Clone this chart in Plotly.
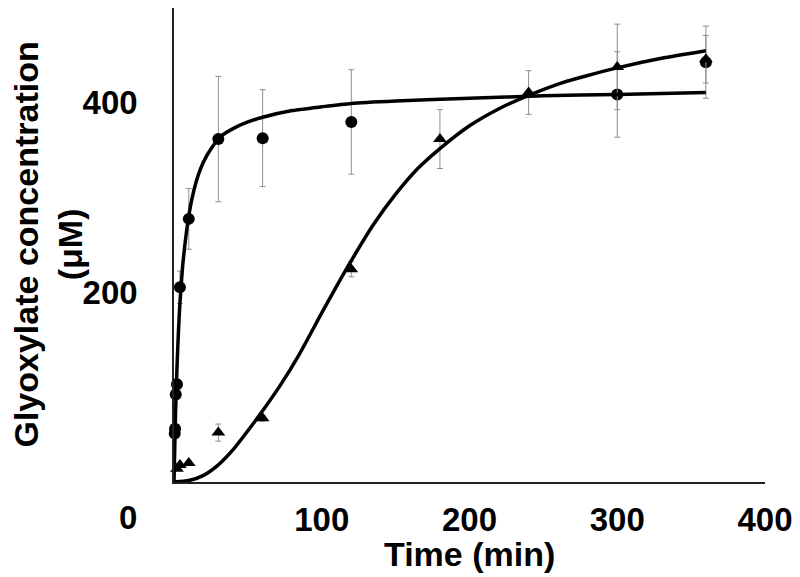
import plotly.graph_objects as go

# Measured data (circles: fast series; triangles: slow series)
circle_t = [0.5, 0.7, 1.2, 2, 4, 10, 30, 60, 120, 300, 360]
circle_y = [51, 56, 92, 103, 205, 277, 361, 362, 379, 408, 442]
circle_err = [4, 4, 5, 5, 17, 32, 66, 51, 55, 45, 38]

tri_t = [2, 4, 10, 30, 60, 120, 180, 240, 300, 360]
tri_y = [14, 18, 20, 52, 67, 224, 361, 410, 437, 445]
tri_err = [2, 2, 2, 9, 3, 8, 31, 23, 45, 25]

# Fitted curves
fit_fast_t = [0, 1, 2, 3, 4, 5, 6, 8, 10, 12, 15, 18, 22, 26, 31, 40, 50, 60, 80, 100, 120, 150, 200, 250, 300, 360]
fit_fast_y = [0, 70, 120, 158, 188, 210, 230, 258, 280, 297, 316, 330, 343, 353, 363, 372, 379, 384, 391, 395, 398.5, 401, 404, 406.5, 408, 410]

fit_slow_t = [0, 10, 20, 30, 40, 50, 60, 72, 85, 100, 110, 120, 135, 150, 165, 180, 200, 220, 240, 262, 280, 300, 330, 360]
fit_slow_y = [0, 1.5, 7, 18, 34, 54, 75, 102, 135, 178, 206, 233, 271, 303, 330, 351, 375, 393, 407, 420, 428, 436, 446, 454]

x_tickvals = [100, 200, 300, 400]
x_ticktext = ["100", "200", "300", "400"]
y_tickvals = [200, 400]
y_ticktext = ["200", "400"]
origin_label = "0"

FONT = "Arial, Liberation Sans, sans-serif"
ERR_COLOR = "#8f8f8f"

fig = go.Figure()

fig.add_trace(go.Scatter(
    x=circle_t, y=circle_y, mode="markers",
    marker=dict(symbol="circle", size=12, color="black"),
    error_y=dict(type="data", array=circle_err, visible=True, color=ERR_COLOR, thickness=1, width=3),
    cliponaxis=False, showlegend=False))

fig.add_trace(go.Scatter(
    x=tri_t, y=tri_y, mode="markers",
    marker=dict(symbol="triangle-up", size=12, color="black"),
    error_y=dict(type="data", array=tri_err, visible=True, color=ERR_COLOR, thickness=1, width=3),
    cliponaxis=False, showlegend=False))

fig.add_trace(go.Scatter(
    x=fit_fast_t, y=fit_fast_y, mode="lines",
    line=dict(color="black", width=3.5, shape="spline", smoothing=0.6),
    showlegend=False))

fig.add_trace(go.Scatter(
    x=fit_slow_t, y=fit_slow_y, mode="lines",
    line=dict(color="black", width=3.5, shape="spline", smoothing=0.6),
    showlegend=False))

fig.update_layout(
    width=792, height=569,
    margin=dict(l=166, r=35, t=0, b=95),
    paper_bgcolor="white", plot_bgcolor="white",
    font=dict(family=FONT, color="black"),
    xaxis=dict(range=[0, 400], showgrid=False, zeroline=False, automargin=False,
               showline=True, linecolor="#222", linewidth=1.5,
               tickvals=x_tickvals, ticktext=x_ticktext, ticks="",
               tickfont=dict(size=33, family=FONT, weight="bold"),
               ticklabelstandoff=8),
    yaxis=dict(range=[0, 499], showgrid=False, zeroline=False, automargin=False,
               showline=True, linecolor="#222", linewidth=1.5,
               tickvals=y_tickvals, ticktext=y_ticktext, ticks="",
               tickfont=dict(size=33, family=FONT, weight="bold"),
               ticklabelstandoff=28),
    annotations=[
        dict(text=origin_label, xref="paper", yref="paper", x=-31 / 400, y=-0.075,
             xanchor="center", yanchor="middle", showarrow=False,
             font=dict(size=33, family=FONT, weight="bold")),
        dict(text="Time (min)", xref="paper", yref="paper", x=0.5, y=-0.152,
             xanchor="center", yanchor="middle", showarrow=False,
             font=dict(size=34, family=FONT, weight="bold")),
        dict(text="Glyoxylate concentration<br>(μM)", xref="paper", yref="paper",
             x=-0.214, y=0.5, xanchor="center", yanchor="middle", showarrow=False,
             textangle=-90,
             font=dict(size=34, family=FONT, weight="bold")),
    ],
)

fig.write_html("out.html")
